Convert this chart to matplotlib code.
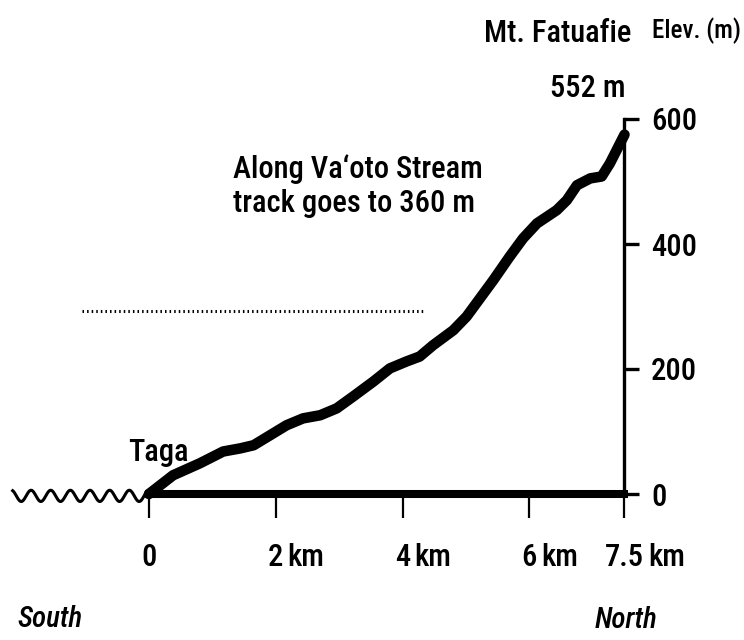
import numpy as np
import matplotlib
matplotlib.use("Agg")
import matplotlib.pyplot as plt

# elevation profile, Taga -> Mt. Fatuafie
dist_km = [0, 0.38, 0.80, 1.17, 1.44, 1.65, 1.91, 2.17, 2.43, 2.70, 2.96,
           3.22, 3.54, 3.80, 4.06, 4.27, 4.48, 4.80, 5.01, 5.22, 5.43, 5.69,
           5.90, 6.12, 6.43, 6.59, 6.75, 6.96, 7.14, 7.27, 7.50]
elev_m = [0, 30, 49, 68, 73, 78, 94, 110, 121, 126, 137,
          156, 180, 201, 212, 220, 238, 262, 284, 313, 342, 380,
          409, 433, 454, 470, 494, 505, 508, 529, 575]

x_ticks = [0, 2, 4, 6, 7.5]
x_tick_nums = ["0", "2", "4", "6", "7.5"]
y_ticks = [0, 200, 400, 600]

track_level = 293          # dotted line
track_from, track_to = -1.06, 4.34
sea_from, sea_to = -2.15, 0.0

plt.rcParams["font.family"] = ["Liberation Sans Narrow", "Roboto Condensed",
                               "Open Sans Condensed", "DejaVu Sans"]
plt.rcParams["font.stretch"] = "condensed"
plt.rcParams["font.weight"] = "medium"
FS = 22

fig = plt.figure(figsize=(7.44, 6.4), dpi=100)
ax = fig.add_axes([0, 0, 1, 1])
ax.set_xlim(-2.35, 9.385)
ax.set_ylim(-233.6, 790.4)

# axes: baseline and elevation scale on the right
for s in ["top", "left"]:
    ax.spines[s].set_visible(False)
ax.spines["bottom"].set_position(("data", 0))
ax.spines["bottom"].set_bounds(0, 7.5)
ax.spines["bottom"].set_linewidth(5.8)
ax.spines["right"].set_position(("data", 7.5))
ax.spines["right"].set_bounds(0, 600)
ax.spines["right"].set_linewidth(2.4)

ax.set_xticks(x_ticks)
ax.set_xticklabels([])
ax.tick_params(axis="x", direction="out", length=17, width=1.6)
ax.yaxis.tick_right()
ax.set_yticks(y_ticks)
ax.set_yticklabels([str(v) for v in y_ticks])
ax.tick_params(axis="y", direction="out", length=11, width=2.4, pad=8,
               labelsize=FS)

# profile
ax.plot(dist_km, elev_m, color="black", lw=7.6,
        solid_capstyle="round", solid_joinstyle="round")

# dotted line
ax.plot([track_from, track_to], [track_level, track_level], color="black",
        lw=2.2, linestyle=(0, (0.5, 1.0)), dash_capstyle="butt")

# sea symbol (wavy line)
sx = np.linspace(sea_from, sea_to, 400)
sy = -3 - 9 * np.cos((sx - sea_to) / 0.31 * 2 * np.pi + np.pi)
ax.plot(sx, sy, color="black", lw=2.2)

# x tick labels: number centred on the tick, "km" after it
for x, n in zip(x_ticks, x_tick_nums):
    t = ax.text(x, -115, n, ha="center", va="baseline", fontsize=FS)
    if n != "0":
        ax.annotate("km", xy=(1, 0), xycoords=t, xytext=(3, 0),
                    textcoords="offset points", ha="left", va="bottom",
                    fontsize=FS)

ax.text(6.44, 723, "Mt. Fatuafie", ha="center", va="baseline", fontsize=FS)
ax.text(6.92, 635, "552 m", ha="center", va="baseline", fontsize=FS)
ax.text(7.93, 729, "Elev. (m)", ha="left", va="baseline", fontsize=FS - 4)
ax.text(1.325, 505, "Along Va\u2018oto Stream", ha="left", va="baseline",
        fontsize=FS)
ax.text(1.325, 451, "track goes to 360 m", ha="left", va="baseline",
        fontsize=FS)
ax.text(-0.33, 53, "Taga", ha="left", va="baseline", fontsize=FS)
ax.text(-2.08, -213, "South", ha="left", va="baseline", fontsize=FS - 1,
        style="italic")
ax.text(7.03, -214, "North", ha="left", va="baseline", fontsize=FS - 1,
        style="italic")

fig.savefig("out.png", dpi=100)
